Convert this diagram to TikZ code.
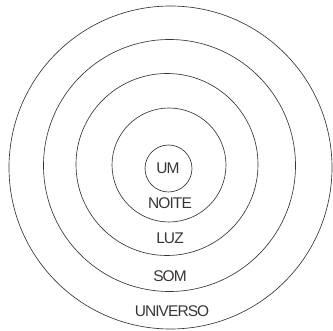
\documentclass[tikz,border=0pt]{standalone}
\usepackage{fontspec}
\setmainfont{Liberation Sans}
\usepackage{xcolor}
\usetikzlibrary{positioning}

\definecolor{inkgray}{HTML}{3A3535}

\begin{document}
\begin{tikzpicture}[
			x=1pt, y=-1pt,
			ring/.style={draw=inkgray, line width=0.65pt},
			every node/.style={text=inkgray, inner sep=0pt,
					font=\fontsize{15.5}{15.5}\selectfont\addfontfeatures{LetterSpace=-6}}
		]
		\useasboundingbox (0,0) rectangle (333,331);

		% concentric rings, inner to outer
		\draw[ring] (168.5,168.5) circle[radius=23.5];
		\draw[ring] (169,165) circle[radius=57];
		\draw[ring] (167,164.5) circle[radius=91];
		\draw[ring] (169.5,165.5) circle[radius=126];
		\draw[ring] (170.5,167.5) circle[radius=161.5];

		\node (um) at (168,168) {UM};
		\node (noite) at (170,203) {NOITE};
		\node (luz) at (170,238) {LUZ};
		\node (som) at (170,276) {SOM};
		\node (universo) at (172,311) {UNIVERSO};
	\end{tikzpicture}
\end{document}
